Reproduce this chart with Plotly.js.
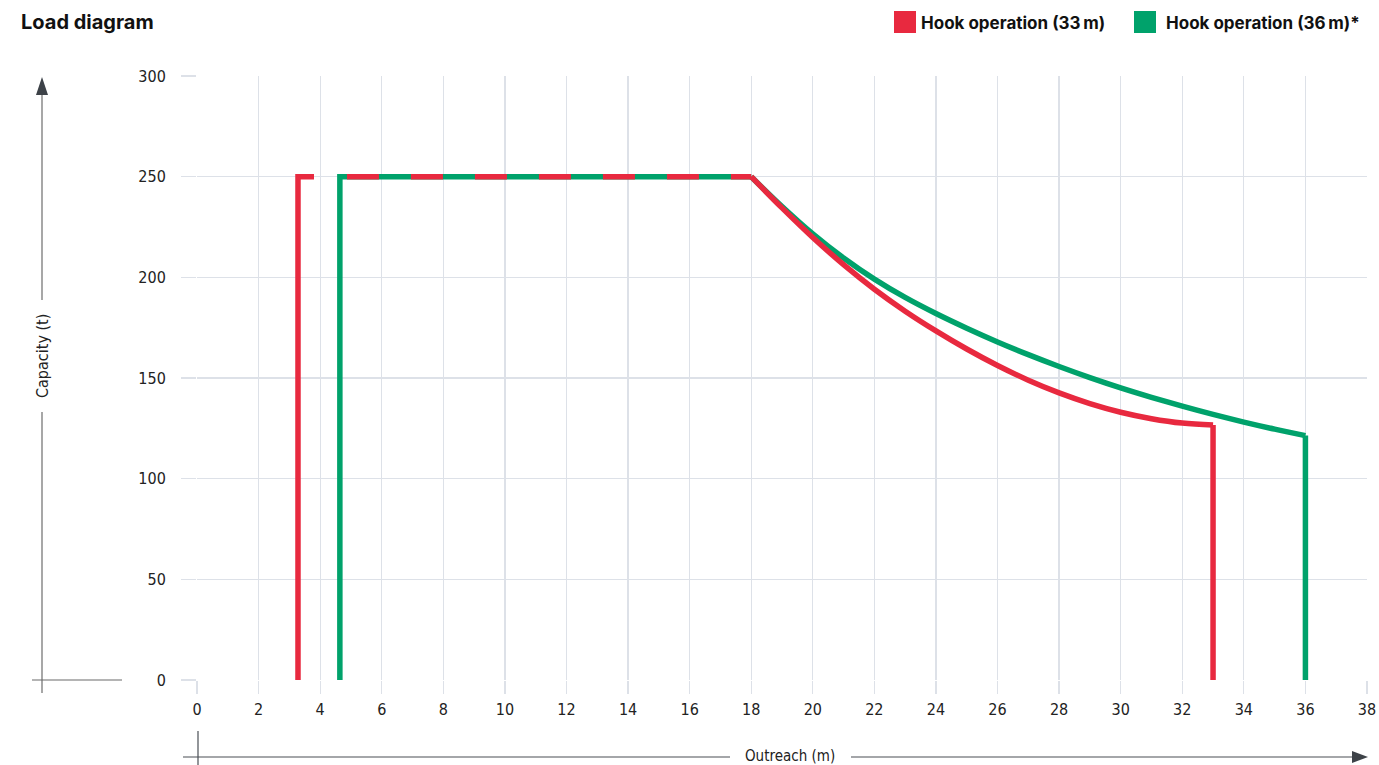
<!DOCTYPE html>
<html>
<head>
<meta charset="utf-8">
<script src="https://cdn.plot.ly/plotly-3.0.1.min.js"></script>
<style>
  html, body { margin: 0; padding: 0; background: #ffffff; }
  #chart { width: 1379px; height: 765px; }
</style>
</head>
<body>
<div id="chart"></div>
<script>
// ---- Data ----
const xTicks = [0, 2, 4, 6, 8, 10, 12, 14, 16, 18, 20, 22, 24, 26, 28, 30, 32, 34, 36, 38];
const yTicks = [0, 50, 100, 150, 200, 250, 300];

// Hook operation (33 m): short start segment, dashed plateau, load curve, drop
const red33StartX = [3.28, 3.28, 3.8];
const red33StartY = [0, 250, 250];
const red33PlateauX = [4.87, 18];
const red33PlateauY = [250, 250];
const red33CurveX = [18, 19, 20, 21, 22, 23, 24, 25, 26, 27, 28, 29, 30, 31, 32, 33];
const red33CurveY = [250, 234.5, 219.8, 206.3, 194.1, 183.2, 173.4, 164.4, 156.2, 148.9, 142.6, 137.3, 133.0, 129.8, 127.6, 126.6];
const red33DropX = [33, 33];
const red33DropY = [126.6, 0];

// Hook operation (36 m)*: rise and plateau, load curve, drop
const green36StartX = [4.64, 4.64, 18];
const green36StartY = [0, 250, 250];
const green36CurveX = [18, 19, 20, 21, 22, 23, 24, 25, 26, 27, 28, 29, 30, 31, 32, 33, 34, 35, 36];
const green36CurveY = [250, 235.2, 221.6, 209.6, 199.1, 190.0, 182.0, 174.7, 167.9, 161.6, 155.7, 150.2, 145.1, 140.4, 136.0, 131.9, 128.1, 124.6, 121.4];
const green36DropX = [36, 36];
const green36DropY = [121.4, 0];

const seriesNames = ['Hook operation (33\u2009m)', 'Hook operation (36\u2009m)*'];
const titleText = 'Load diagram';
const yTitle = 'Capacity (t)';
const xTitle = 'Outreach (m)';

// ---- Styling ----
const RED = '#e8293f';
const GREEN = '#00a26b';
const GRID = '#dde1e8';
const NARROW = '"Liberation Sans Narrow", "DejaVu Sans Condensed", Roboto, sans-serif';
const BOLD = 'Inter, Roboto, "Noto Sans", sans-serif';
const LW = 5.5;

const W = 1379, H = 765;
const M = { l: 197, r: 12, t: 76, b: 85 };
const PW = W - M.l - M.r, PH = H - M.t - M.b;
const X = px => (px - M.l) / PW;
const Y = py => (H - M.b - py) / PH;

const seg = (x, y, color, extra) => ({
  x: x, y: y, type: 'scatter', mode: 'lines', hoverinfo: 'x+y',
  line: Object.assign({ color: color, width: LW }, extra || {})
});

const traces = [
  seg(green36StartX, green36StartY, GREEN),
  seg(green36CurveX, green36CurveY, GREEN, { shape: 'spline', smoothing: 1 }),
  seg(green36DropX, green36DropY, GREEN),
  seg(red33StartX, red33StartY, RED),
  seg(red33PlateauX, red33PlateauY, RED, { dash: '32px,32px' }),
  seg(red33CurveX, red33CurveY, RED, { shape: 'spline', smoothing: 1 }),
  seg(red33DropX, red33DropY, RED)
];

const line = (x0, y0, x1, y1, color, width) => ({
  type: 'line', xref: 'paper', yref: 'paper',
  x0: X(x0), y0: Y(y0), x1: X(x1), y1: Y(y1),
  line: { color: color, width: width }
});
const tri = (pts, color) => ({
  type: 'path', xref: 'paper', yref: 'paper',
  path: 'M ' + pts.map(p => X(p[0]) + ',' + Y(p[1])).join(' L ') + ' Z',
  fillcolor: color, line: { width: 0 }
});
const rect = (x0, y0, x1, y1, color) => ({
  type: 'rect', xref: 'paper', yref: 'paper',
  x0: X(x0), y0: Y(y0), x1: X(x1), y1: Y(y1),
  fillcolor: color, line: { width: 0 }
});

const shapes = [
  // y-axis arrow
  line(42, 93, 42, 300, '#8a8a8a', 1.5),
  line(42, 412, 42, 693, '#8a8a8a', 1.5),
  tri([[42, 77], [36, 95], [48, 95]], '#3d4248'),
  line(32, 680, 122, 680, '#6a6a6a', 1.2),
  // x-axis arrow
  line(183, 757, 730, 757, '#4a4f55', 1.2),
  line(851, 757, 1353, 757, '#4a4f55', 1.2),
  line(198, 731, 198, 765, '#4a4f55', 1.2),
  tri([[1368, 757], [1352, 751], [1352, 763]], '#3d4248'),
  // legend squares
  rect(894, 11, 916, 33, RED),
  rect(1134, 11, 1156, 33, GREEN)
];

const annotations = [
  { text: titleText, xref: 'paper', yref: 'paper', x: X(19), y: Y(22),
    xanchor: 'left', yanchor: 'middle', showarrow: false,
    font: { family: BOLD, size: 20, color: '#111111', weight: 700 } },
  { text: seriesNames[0], xref: 'paper', yref: 'paper', x: X(919), y: Y(23),
    xanchor: 'left', yanchor: 'middle', showarrow: false,
    font: { family: BOLD, size: 17, color: '#111111', weight: 700 } },
  { text: seriesNames[1], xref: 'paper', yref: 'paper', x: X(1164), y: Y(23),
    xanchor: 'left', yanchor: 'middle', showarrow: false,
    font: { family: BOLD, size: 17, color: '#111111', weight: 700 } },
  { text: yTitle, xref: 'paper', yref: 'paper', x: X(42), y: Y(356),
    xanchor: 'center', yanchor: 'middle', textangle: -90, showarrow: false,
    font: { family: NARROW, size: 16, color: '#222222' } },
  { text: xTitle, xref: 'paper', yref: 'paper', x: X(790), y: Y(756),
    xanchor: 'center', yanchor: 'middle', showarrow: false,
    font: { family: NARROW, size: 15, color: '#222222' } }
];

const layout = {
  width: W, height: H,
  margin: M,
  paper_bgcolor: '#ffffff', plot_bgcolor: '#ffffff',
  showlegend: false,
  font: { family: NARROW, size: 16, color: '#222222' },
  xaxis: {
    range: [0, 38], tickvals: xTicks, ticktext: xTicks.map(String),
    showgrid: true, gridcolor: GRID, gridwidth: 1.3,
    zeroline: false, showline: false,
    ticks: 'outside', ticklen: 13, tickcolor: GRID, tickwidth: 1.3,
    ticklabelstandoff: 2,
    tickfont: { family: NARROW, size: 16, color: '#222222' },
    fixedrange: true
  },
  yaxis: {
    range: [0, 300], tickvals: yTicks, ticktext: yTicks.map(String),
    showgrid: true, gridcolor: GRID, gridwidth: 1.3,
    zeroline: false, showline: false,
    ticks: 'outside', ticklen: 15, tickcolor: GRID, tickwidth: 1.3,
    ticklabelstandoff: 12,
    tickfont: { family: NARROW, size: 16, color: '#222222' },
    fixedrange: true
  },
  shapes: shapes,
  annotations: annotations
};

Plotly.newPlot('chart', traces, layout, { staticPlot: true, displayModeBar: false });
</script>
</body>
</html>
